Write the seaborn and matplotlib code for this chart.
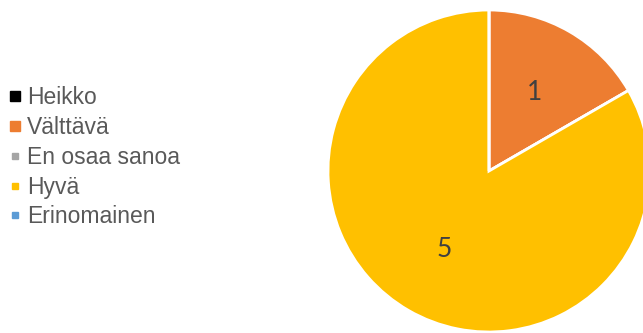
import matplotlib
matplotlib.use("Agg")
import matplotlib.pyplot as plt
import seaborn as sns
from matplotlib.lines import Line2D

categories = ["Heikko", "Välttävä", "En osaa sanoa", "Hyvä", "Erinomainen"]
values = [0, 1, 0, 5, 0]
colors = ["#000000", "#ED7D31", "#A5A5A5", "#FFC000", "#5B9BD5"]
legend_marker_sizes = [7.5, 7.5, 4.5, 4.5, 4.5]

sns.set_theme(style="white")
plt.rcParams["font.family"] = ["Liberation Sans", "DejaVu Sans"]

W, H = 643, 333
fig = plt.figure(figsize=(W / 100, H / 100), dpi=100)
cx, cy, r = 489, 171, 161
ax = fig.add_axes([(cx - r) / W, (H - cy - r) / H, 2 * r / W, 2 * r / H])

def fmt(p):
    n = round(p * sum(values) / 100)
    return f"{n}" if n > 0 else ""

wedges, _, autotexts = ax.pie(
    values, colors=colors, startangle=90, counterclock=False, radius=1,
    autopct=fmt, pctdistance=0.56,
    wedgeprops=dict(edgecolor="white", linewidth=2),
    textprops=dict(color="#404040", fontsize=19, family=["Lato", "DejaVu Sans"]),
)
ax.set_xlim(-1, 1)
ax.set_ylim(-1, 1)
ax.set_aspect("equal")
ax.axis("off")
for w in wedges:
    w.set_clip_on(False)

handles = [Line2D([0], [0], marker="s", linestyle="", markersize=ms,
                  markerfacecolor=c, markeredgecolor=c)
           for c, ms in zip(colors, legend_marker_sizes)]
leg = fig.legend(handles, categories, loc="center left",
                 bbox_to_anchor=(-0.012, 0.528), frameon=False,
                 fontsize=16.5, handlelength=0.55, handletextpad=0.25,
                 labelspacing=0.3, borderaxespad=0.3)
for t in leg.get_texts():
    t.set_color("#595959")

fig.savefig("out.png", dpi=100)
